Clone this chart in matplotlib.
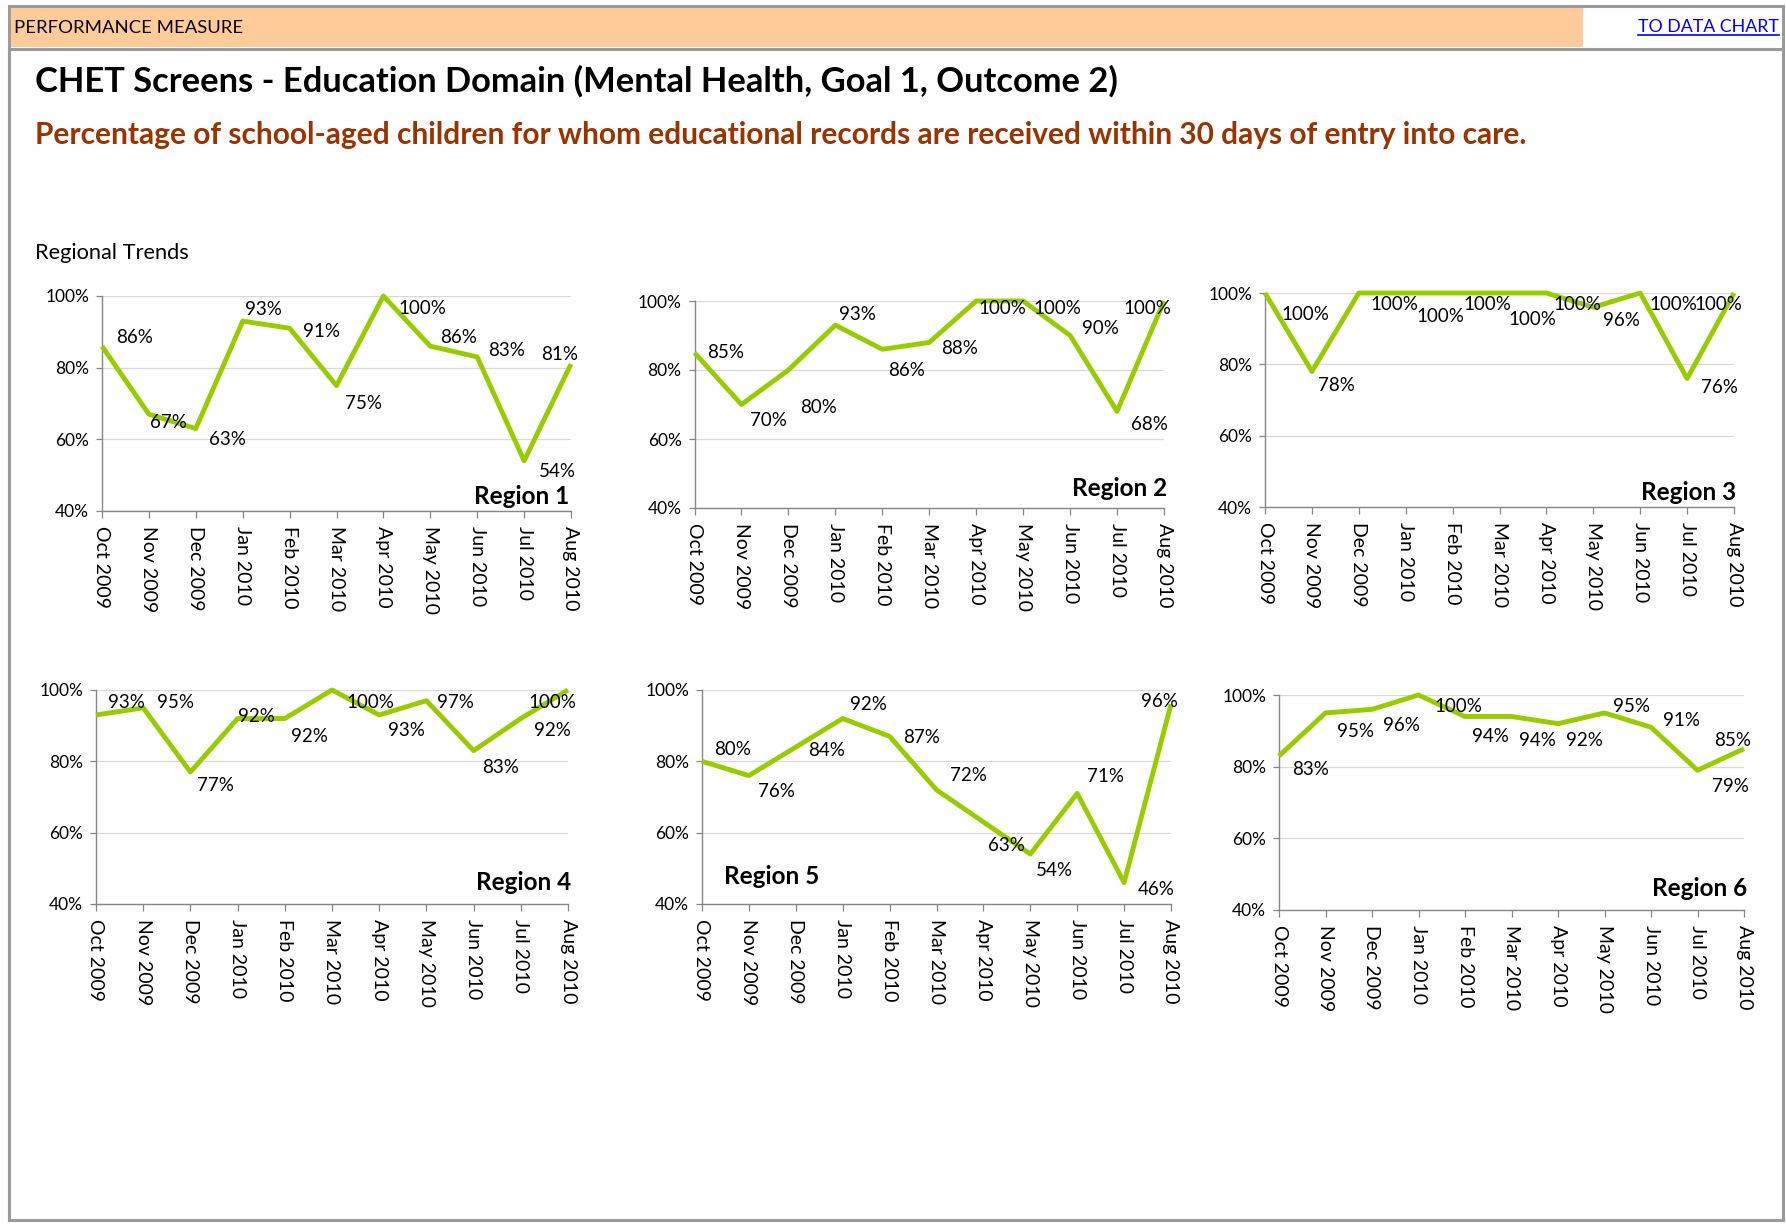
import matplotlib
matplotlib.use('Agg')
import matplotlib.pyplot as plt
from matplotlib.patches import Rectangle
from matplotlib.lines import Line2D

# ---------------- data ----------------
months = ['Oct 2009', 'Nov 2009', 'Dec 2009', 'Jan 2010', 'Feb 2010', 'Mar 2010',
          'Apr 2010', 'May 2010', 'Jun 2010', 'Jul 2010', 'Aug 2010']
region_names = ['Region 1', 'Region 2', 'Region 3', 'Region 4', 'Region 5', 'Region 6']
region1 = [86, 67, 63, 93, 91, 75, 100, 86, 83, 54, 81]
region2 = [85, 70, 80, 93, 86, 88, 100, 100, 90, 68, 100]
region3 = [100, 78, 100, 100, 100, 100, 100, 96, 100, 76, 100]
region4 = [93, 95, 77, 92, 92, 100, 93, 97, 83, 92, 100]
region5 = [80, 76, 84, 92, 87, 72, 63, 54, 71, 46, 96]
region6 = [83, 95, 96, 100, 94, 94, 92, 95, 91, 79, 85]
series = [region1, region2, region3, region4, region5, region6]
y_ticks = [40, 60, 80, 100]

header_text = 'PERFORMANCE MEASURE'
link_text = 'TO DATA CHART'
title_text = 'CHET Screens - Education Domain (Mental Health, Goal 1, Outcome 2)'
subtitle_text = ('Percentage of school-aged children for whom educational records '
                 'are received within 30 days of entry into care.')
section_text = 'Regional Trends'

# ---------------- layout / style ----------------
W, H = 1786, 1225
FONT = 'Lato'
LINE_COLOR = '#99CC00'
GRID_COLOR = '#D9D9D9'
AXIS_COLOR = '#868686'
FRAME_COLOR = '#9B9B9B'

# axes boxes in pixels: left, top, right, bottom
axes_px = [
    (102, 296, 571, 511),
    (694.5, 301, 1164, 508),
    (1265, 293, 1734, 507),
    (96, 690, 568, 904),
    (702, 690, 1171, 904),
    (1279, 695, 1744, 910),
]

# data label offsets in pixels (dx to left edge of label, dy to label centre, up positive)
label_offsets = [
    [(14, 10), (1, -7), (13.5, -9), (2, 13), (13.5, -2), (8, -16), (15, -11), (10, 10), (11, 8), (15, -9), (-30, 11)],
    [(12.7, 2), (9, -15), (12, -36), (4, 12), (5.5, -20), (12, -5), (2.5, -6), (10, -6), (12, 8), (13.5, -12), (-41, -6)],
    [(16.8, -20), (6.5, -13), (11.6, -10), (11, -22), (11, -10), (9, -25), (7, -10), (9.5, -12), (9, -10), (14, -7), (-39.6, -10)],
    [(12, 14), (13.5, 7), (6.7, -12), (0, 4), (6, -16), (14, -11), (8.5, -14), (10.7, 0), (9, -15), (13.5, -10), (-40, -11)],
    [(12, 13), (8.7, -14), (12.7, -2), (7.6, 16), (13.5, 0), (13.5, 16), (4.7, -22), (6, -15), (9.5, 18), (13.5, -5), (-30, 4)],
    [(13.5, -12), (11, -17), (11, -15), (15.7, -10), (6.7, -18), (7, -22), (8, -15), (9, 8), (11.6, 8), (14.6, -15), (-30, 10)],
]

# region name placement: (anchor x fraction, ha, dx px, dy px from bottom)
name_pos = [
    (1, 'right', -2, 15),
    (1, 'right', 3, 19),
    (1, 'right', 2, 15),
    (1, 'right', 3.6, 22),
    (0, 'left', 21.6, 27),
    (1, 'right', 3, 22),
]

plt.rcParams['font.family'] = [FONT, 'DejaVu Sans']

fig = plt.figure(figsize=(W / 100, H / 100), dpi=100)
fig.patch.set_facecolor('white')


def fx(x):
    return x / W


def fy(y):
    return 1 - y / H


# ---------------- header / frame ----------------
fig.add_artist(Rectangle((fx(9), fy(47)), fx(1583) - fx(9), fy(7) - fy(47),
                         transform=fig.transFigure, facecolor='#FFCC99', edgecolor='none', zorder=0))
for (x0, y0, x1, y1) in [(9, 5.5, 1783, 5.5), (9, 48.5, 1783, 48.5),
                         (9, 5.5, 9, 1219.5), (1782.5, 5.5, 1782.5, 1219.5),
                         (9, 1219.5, 1783, 1219.5)]:
    fig.add_artist(Line2D([fx(x0), fx(x1)], [fy(y0), fy(y1)], transform=fig.transFigure,
                          color=FRAME_COLOR, lw=2.2, solid_capstyle='projecting', zorder=5))

renderer = fig.canvas.get_renderer()


def fit_text(t, target_w):
    for _ in range(3):
        bb = t.get_window_extent(renderer)
        t.set_fontsize(t.get_fontsize() * target_w / bb.width)


t_hdr = fig.text(fx(14), fy(33), header_text, fontsize=14, color='black', va='baseline', ha='left')
fit_text(t_hdr, 226)

t_link = fig.text(fx(1638), fy(32.5), link_text, fontsize=14, color='#0000FF', va='baseline', ha='left')
fit_text(t_link, 141)
bb = t_link.get_window_extent(renderer)
fig.add_artist(Line2D([bb.x0 / W, bb.x1 / W], [fy(35), fy(35)], transform=fig.transFigure,
                      color='#0000FF', lw=1.2))

t_title = fig.text(fx(35), fy(92), title_text, fontsize=24, fontweight='bold', color='black',
                   va='baseline', ha='left')
fit_text(t_title, 1083)

t_sub = fig.text(fx(35), fy(144), subtitle_text, fontsize=19, fontweight='bold', color='#993300',
                 va='baseline', ha='left')
fit_text(t_sub, 1489)

t_sec = fig.text(fx(35), fy(259), section_text, fontsize=14, color='black', va='baseline', ha='left')
fit_text(t_sec, 154)

# ---------------- charts ----------------
x = list(range(len(months)))
for i, vals in enumerate(series):
    l, t, r, b = axes_px[i]
    ax = fig.add_axes([fx(l), fy(b), fx(r) - fx(l), fy(t) - fy(b)])
    ax.set_facecolor('none')
    ax.plot(x, vals, color=LINE_COLOR, lw=3.5, solid_joinstyle='round', solid_capstyle='butt',
            clip_on=False, zorder=3)
    ax.set_xlim(0, len(months) - 1)
    ax.set_ylim(40, 100)
    ax.set_yticks(y_ticks)
    ax.set_yticklabels([f'{v}%' for v in y_ticks])
    ax.set_xticks(x)
    ax.set_xticklabels(months, rotation=-90)
    ax.grid(axis='y', color=GRID_COLOR, lw=0.9, zorder=0)
    ax.set_axisbelow(True)
    for s in ['top', 'right']:
        ax.spines[s].set_visible(False)
    for s in ['left', 'bottom']:
        ax.spines[s].set_color(AXIS_COLOR)
        ax.spines[s].set_linewidth(1.0)
        ax.spines[s].set_zorder(2)
    ax.tick_params(axis='x', length=5, width=0.9, color=AXIS_COLOR, pad=6, labelsize=14,
                   labelcolor='black')
    ax.tick_params(axis='y', length=4.3, width=0.9, color=AXIS_COLOR, pad=5, labelsize=12.5,
                   labelcolor='black')

    for j, v in enumerate(vals):
        dx, dy = label_offsets[i][j]
        ax.annotate(f'{v}%', xy=(j, v), xytext=(dx, dy - 1.5), textcoords='offset pixels',
                    ha='left', va='center', fontsize=13.5, color='black', zorder=4,
                    annotation_clip=False)

    fxa, ha, ndx, ndy = name_pos[i]
    ax.annotate(region_names[i], xy=(fxa, 0), xycoords='axes fraction', xytext=(ndx, ndy),
                textcoords='offset pixels', ha=ha, va='center', fontsize=17.5,
                fontweight='bold', color='black', zorder=4)

fig.savefig('out.png', dpi=100, facecolor='white')
